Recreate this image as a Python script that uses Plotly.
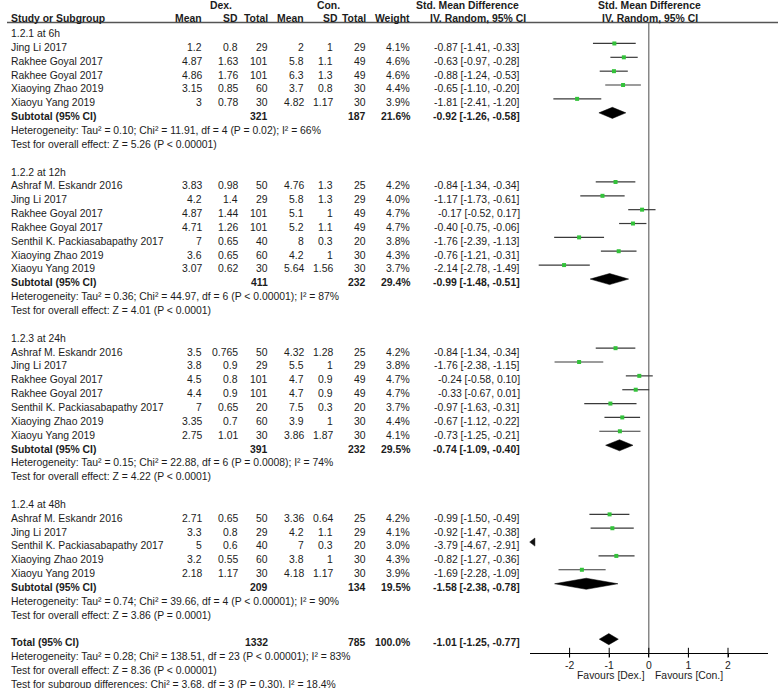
import plotly.graph_objects as go

# ---------------- data ----------------
groups = ["1.2.1 at 6h", "1.2.2 at 12h", "1.2.3 at 24h", "1.2.4 at 48h"]
group_size = [5, 7, 7, 5]

study = [
    "Jing Li 2017", "Rakhee Goyal 2017", "Rakhee Goyal 2017", "Xiaoying Zhao 2019", "Xiaoyu Yang 2019",
    "Ashraf M. Eskandr 2016", "Jing Li 2017", "Rakhee Goyal 2017", "Rakhee Goyal 2017",
    "Senthil K. Packiasabapathy 2017", "Xiaoying Zhao 2019", "Xiaoyu Yang 2019",
    "Ashraf M. Eskandr 2016", "Jing Li 2017", "Rakhee Goyal 2017", "Rakhee Goyal 2017",
    "Senthil K. Packiasabapathy 2017", "Xiaoying Zhao 2019", "Xiaoyu Yang 2019",
    "Ashraf M. Eskandr 2016", "Jing Li 2017", "Senthil K. Packiasabapathy 2017",
    "Xiaoying Zhao 2019", "Xiaoyu Yang 2019",
]
dex_mean = [1.2, 4.87, 4.86, 3.15, 3,
            3.83, 4.2, 4.87, 4.71, 7, 3.6, 3.07,
            3.5, 3.8, 4.5, 4.4, 7, 3.35, 2.75,
            2.71, 3.3, 5, 3.2, 2.18]
dex_sd = [0.8, 1.63, 1.76, 0.85, 0.78,
          0.98, 1.4, 1.44, 1.26, 0.65, 0.65, 0.62,
          0.765, 0.9, 0.8, 0.9, 0.65, 0.7, 1.01,
          0.65, 0.8, 0.6, 0.55, 1.17]
dex_n = [29, 101, 101, 60, 30,
         50, 29, 101, 101, 40, 60, 30,
         50, 29, 101, 101, 20, 60, 30,
         50, 29, 40, 60, 30]
con_mean = [2, 5.8, 6.3, 3.7, 4.82,
            4.76, 5.8, 5.1, 5.2, 8, 4.2, 5.64,
            4.32, 5.5, 4.7, 4.7, 7.5, 3.9, 3.86,
            3.36, 4.2, 7, 3.8, 4.18]
con_sd = [1, 1.1, 1.3, 0.8, 1.17,
          1.3, 1.3, 1, 1.1, 0.3, 1, 1.56,
          1.28, 1, 0.9, 0.9, 0.3, 1, 1.87,
          0.64, 1.1, 0.3, 1, 1.17]
con_n = [29, 49, 49, 30, 30,
         25, 29, 49, 49, 20, 30, 30,
         25, 29, 49, 49, 20, 30, 30,
         25, 29, 20, 30, 30]
weight = [4.1, 4.6, 4.6, 4.4, 3.9,
          4.2, 4.0, 4.7, 4.7, 3.8, 4.3, 3.7,
          4.2, 3.8, 4.7, 4.7, 3.7, 4.4, 4.1,
          4.2, 4.1, 3.0, 4.3, 3.9]
smd = [-0.87, -0.63, -0.88, -0.65, -1.81,
       -0.84, -1.17, -0.17, -0.40, -1.76, -0.76, -2.14,
       -0.84, -1.76, -0.24, -0.33, -0.97, -0.67, -0.73,
       -0.99, -0.92, -3.79, -0.82, -1.69]
ci_lo = [-1.41, -0.97, -1.24, -1.10, -2.41,
         -1.34, -1.73, -0.52, -0.75, -2.39, -1.21, -2.78,
         -1.34, -2.38, -0.58, -0.67, -1.63, -1.12, -1.25,
         -1.50, -1.47, -4.67, -1.27, -2.28]
ci_hi = [-0.33, -0.28, -0.53, -0.20, -1.20,
         -0.34, -0.61, 0.17, -0.06, -1.13, -0.31, -1.49,
         -0.34, -1.15, 0.10, 0.01, -0.31, -0.22, -0.21,
         -0.49, -0.38, -2.91, -0.36, -1.09]

sub_dex_n = [321, 411, 391, 209]
sub_con_n = [187, 232, 232, 134]
sub_weight = [21.6, 29.4, 29.5, 19.5]
sub_smd = [-0.92, -0.99, -0.74, -1.58]
sub_lo = [-1.26, -1.48, -1.09, -2.38]
sub_hi = [-0.58, -0.51, -0.40, -0.78]
sub_het = [
    "Heterogeneity: Tau² = 0.10; Chi² = 11.91, df = 4 (P = 0.02); I² = 66%",
    "Heterogeneity: Tau² = 0.36; Chi² = 44.97, df = 6 (P < 0.00001); I² = 87%",
    "Heterogeneity: Tau² = 0.15; Chi² = 22.88, df = 6 (P = 0.0008); I² = 74%",
    "Heterogeneity: Tau² = 0.74; Chi² = 39.66, df = 4 (P < 0.00001); I² = 90%",
]
sub_z = [
    "Test for overall effect: Z = 5.26 (P < 0.00001)",
    "Test for overall effect: Z = 4.01 (P < 0.0001)",
    "Test for overall effect: Z = 4.22 (P < 0.0001)",
    "Test for overall effect: Z = 3.86 (P = 0.0001)",
]

total_dex_n = 1332
total_con_n = 785
total_weight = 100.0
total_smd = -1.01
total_lo = -1.25
total_hi = -0.77
total_notes = [
    "Heterogeneity: Tau² = 0.28; Chi² = 138.51, df = 23 (P < 0.00001); I² = 83%",
    "Test for overall effect: Z = 8.36 (P < 0.00001)",
    "Test for subgroup differences: Chi² = 3.68, df = 3 (P = 0.30), I² = 18.4%",
]

tick_vals = [-2, -1, 0, 1, 2]
tick_text = ["-2", "-1", "0", "1", "2"]

# ---------------- layout geometry ----------------
W, H = 778, 688
ROW0_PX, ROW_H = 33.5, 13.85


def prow(py):
    return (py - ROW0_PX) / ROW_H


ROW_TOP = prow(0)
ROW_BOT = prow(H)
AXIS_ROW = prow(652.7)
HEAD_LINE_ROW = prow(22.5)
X_MIN, X_MAX = -3, 3
FONT = "Liberation Sans, Arial, sans-serif"
FS = 10.4
TXT = "#1c1c1c"

COL = dict(dex_mean=204, dex_sd=239.5, dex_n=269.5, con_mean=306, con_sd=335,
           con_n=368, weight=412, ci=522)
NAME_X = 9

annotations = []


def txt(text, px, row, anchor="right", bold=False, yref="y", size=FS, color=TXT):
    t = f"<b>{text}</b>" if bold else text
    annotations.append(dict(text=t, x=px / W, xref="paper", y=row, yref=yref,
                            xanchor=anchor, yanchor="middle", showarrow=False,
                            font=dict(family=FONT, size=size, color=color)))


def g(v):
    return f"{v:g}"


def ci_text(e, lo, hi):
    return f"{e:.2f} [{lo:.2f}, {hi:.2f}]"


# headers
r1, r2 = prow(5), prow(18.5)
txt("Dex.", 221, r1, "center", True)
txt("Con.", 328, r1, "center", True)
txt("Std. Mean Difference", 467, r1, "center", True)
txt("Std. Mean Difference", 649, r1, "center", True)
txt("Study or Subgroup", NAME_X, r2, "left", True)
txt("Mean", 204, r2, "right", True)
txt("SD", 240, r2, "right", True)
txt("Total", 269.5, r2, "right", True)
txt("Mean", 306, r2, "right", True)
txt("SD", 340, r2, "right", True)
txt("Total", 368, r2, "right", True)
txt("Weight", 412, r2, "right", True)
txt("IV. Random, 95% CI", 478, r2, "center", True)
txt("IV. Random, 95% CI", 650, r2, "center", True)

# rows
study_rows = []
sub_rows = []
row = 0
idx = 0
for gi, gname in enumerate(groups):
    txt(gname, NAME_X, row, "left")
    row += 1
    for _ in range(group_size[gi]):
        i = idx
        txt(study[i], NAME_X, row, "left")
        txt(g(dex_mean[i]), COL["dex_mean"], row)
        txt(g(dex_sd[i]), COL["dex_sd"], row)
        txt(g(dex_n[i]), COL["dex_n"], row)
        txt(g(con_mean[i]), COL["con_mean"], row)
        txt(g(con_sd[i]), COL["con_sd"], row)
        txt(g(con_n[i]), COL["con_n"], row)
        txt(f"{weight[i]:.1f}%", COL["weight"], row)
        txt(ci_text(smd[i], ci_lo[i], ci_hi[i]), COL["ci"], row)
        study_rows.append(row)
        idx += 1
        row += 1
    txt("Subtotal (95% CI)", NAME_X, row, "left", True)
    txt(g(sub_dex_n[gi]), COL["dex_n"], row, bold=True)
    txt(g(sub_con_n[gi]), COL["con_n"], row, bold=True)
    txt(f"{sub_weight[gi]:.1f}%", COL["weight"], row, bold=True)
    txt(ci_text(sub_smd[gi], sub_lo[gi], sub_hi[gi]), COL["ci"], row, bold=True)
    sub_rows.append(row)
    row += 1
    txt(sub_het[gi], NAME_X, row, "left")
    row += 1
    txt(sub_z[gi], NAME_X, row, "left")
    row += 2

total_row = row
txt("Total (95% CI)", NAME_X, row, "left", True)
txt(g(total_dex_n), COL["dex_n"], row, bold=True)
txt(g(total_con_n), COL["con_n"], row, bold=True)
txt(f"{total_weight:.1f}%", COL["weight"], row, bold=True)
txt(ci_text(total_smd, total_lo, total_hi), COL["ci"], row, bold=True)
for k, note in enumerate(total_notes):
    txt(note, NAME_X, row + 1 + k, "left")

txt("Favours [Dex.]", 647, prow(675), "right")
txt("Favours [Con.]", 653, prow(675), "left")

# ---------------- marks ----------------
fig = go.Figure()
MARK_OFF = -0.28
DIA_OFF = -0.27
DIA_H = 0.40

# zero line
fig.add_trace(go.Scatter(x=[0, 0], y=[HEAD_LINE_ROW, AXIS_ROW], mode="lines",
                         line=dict(color="#6a6a6a", width=1.2), hoverinfo="skip"))

# CI lines (studies running off the left edge are shown by an arrow instead)
off = [i for i in range(len(smd)) if ci_lo[i] < X_MIN]
cx, cy = [], []
for i, r in enumerate(study_rows):
    if i in off:
        continue
    cx += [ci_lo[i], ci_hi[i], None]
    cy += [r + MARK_OFF, r + MARK_OFF, None]
fig.add_trace(go.Scatter(x=cx, y=cy, mode="lines",
                         line=dict(color="#3a3a3a", width=1.2), hoverinfo="skip"))

# point estimates
in_rng = [i for i in range(len(smd)) if X_MIN <= smd[i] <= X_MAX]
fig.add_trace(go.Scatter(x=[smd[i] for i in in_rng],
                         y=[study_rows[i] + MARK_OFF for i in in_rng],
                         mode="markers",
                         marker=dict(symbol="square", size=4, color="#33c23a",
                                     line=dict(width=0)),
                         hoverinfo="skip"))

# off-scale arrows
fig.add_trace(go.Scatter(x=[X_MIN + 0.08 for _ in off],
                         y=[study_rows[i] + MARK_OFF for i in off],
                         mode="markers", cliponaxis=False,
                         marker=dict(symbol="triangle-left", size=7, color="#111",
                                     line=dict(width=0.5, color="#111")),
                         hoverinfo="skip"))

# diamonds
dia_est = sub_smd + [total_smd]
dia_lo = sub_lo + [total_lo]
dia_hi = sub_hi + [total_hi]
dia_rows = sub_rows + [total_row]
for e, lo, hi, r in zip(dia_est, dia_lo, dia_hi, dia_rows):
    yc = r + DIA_OFF
    fig.add_trace(go.Scatter(x=[lo, e, hi, e, lo], y=[yc, yc - DIA_H, yc, yc + DIA_H, yc],
                             mode="lines", fill="toself", fillcolor="#000",
                             line=dict(color="#000", width=0.5), hoverinfo="skip"))

# crossing tick marks
fig.add_trace(go.Scatter(x=tick_vals, y=[AXIS_ROW] * len(tick_vals), mode="markers",
                         cliponaxis=False,
                         marker=dict(symbol="line-ns", size=7,
                                     line=dict(color="#000", width=1)),
                         hoverinfo="skip"))

axis_paper = (ROW_BOT - AXIS_ROW) / (ROW_BOT - ROW_TOP)

fig.update_layout(
    width=W, height=H,
    margin=dict(l=0, r=0, t=0, b=0),
    paper_bgcolor="white", plot_bgcolor="rgba(0,0,0,0)",
    showlegend=False,
    annotations=annotations,
    shapes=[dict(type="line", xref="paper", yref="y", x0=7 / W, x1=1,
                 y0=HEAD_LINE_ROW, y1=HEAD_LINE_ROW,
                 line=dict(color="#555", width=1.3))],
    xaxis=dict(domain=[530 / W, 767.6 / W], range=[X_MIN, X_MAX],
               anchor="free", position=axis_paper,
               showline=True, linecolor="#000", linewidth=1,
               ticks="outside", ticklen=3, tickcolor="#000",
               tickvals=tick_vals, ticktext=tick_text,
               tickfont=dict(family=FONT, size=FS, color=TXT),
               showgrid=False, zeroline=False, fixedrange=True),
    yaxis=dict(domain=[0, 1], range=[ROW_BOT, ROW_TOP], visible=False,
               showgrid=False, zeroline=False, fixedrange=True),
)

fig.write_html("out.html", config={"displayModeBar": False},
               post_script="document.body.style.margin='0px';document.body.style.padding='0px';")
